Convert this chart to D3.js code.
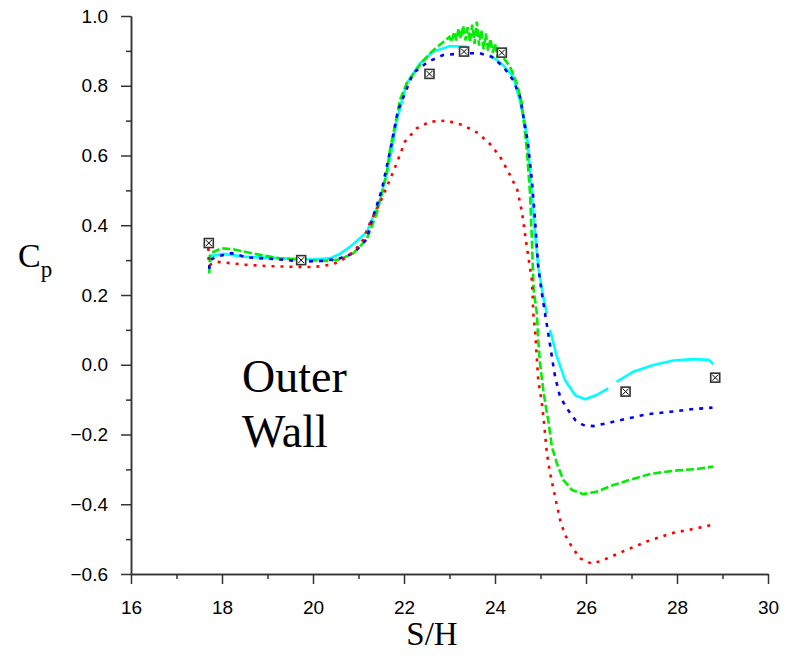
<!DOCTYPE html>
<meta charset='utf-8'>
<style>
body { margin: 0; background: #fff; }
.axis text { font-family: 'Liberation Sans', Arial, sans-serif; font-size: 19px; fill: #000; }
.axis path, .axis line { stroke: #333; stroke-width: 1.5px; }
.curve { fill: none; stroke-width: 2.6px; }
</style>
<svg width='794' height='656'></svg>

<script src='https://cdn.jsdelivr.net/npm/d3@7/dist/d3.min.js'></script>

<script>
  // computed Cp curves along the outer wall, [S/H, Cp]; null = gap in the line
  var redSeries = [[17.70,0.335],[17.71,0.285],[17.9,0.295],[18.5,0.287],[19.0,0.283],[19.5,0.281],[20.0,0.280],
    [20.44,0.288],[20.66,0.302],[20.9,0.325],[21.1,0.358],[21.25,0.406],[21.47,0.464],[21.69,0.53],[21.84,0.578],
    [22.02,0.64],[22.28,0.678],[22.57,0.697],[22.94,0.70],[23.30,0.687],[23.63,0.664],[23.89,0.633],[24.11,0.597],
    [24.33,0.544],[24.49,0.501],[24.59,0.44],[24.70,0.338],[24.81,0.243],[24.83,0.195],[24.84,0.148],[24.88,0.10],
    [24.95,-0.044],[25.03,-0.11],[25.08,-0.17],[25.14,-0.254],[25.21,-0.311],[25.32,-0.378],[25.43,-0.445],
    [25.54,-0.488],[25.69,-0.522],[25.87,-0.555],[26.13,-0.571],[26.38,-0.560],[26.89,-0.531],[27.33,-0.507],
    [27.88,-0.483],[28.43,-0.469],[28.78,-0.459]];

  var greenSeries = [[17.72,0.262],[17.73,0.30],[17.75,0.32],[17.99,0.334],[18.25,0.331],[18.84,0.315],[19.27,0.305],
    [19.86,0.30],[20.30,0.298],[20.59,0.302],[20.89,0.32],[21.18,0.36],[21.40,0.434],[21.55,0.51],[21.62,0.549],
    [21.69,0.616],[21.84,0.711],[21.91,0.759],[22.06,0.807],[22.35,0.86],[22.61,0.898],[22.83,0.922],[23.0,0.94],
    [23.05,0.925],[23.1,0.955],[23.15,0.93],[23.2,0.965],[23.25,0.935],[23.3,0.972],[23.35,0.93],[23.4,0.968],
    [23.45,0.925],[23.5,0.975],[23.55,0.92],[23.6,0.984],[23.65,0.915],[23.7,0.96],[23.75,0.905],[23.8,0.95],
    [23.85,0.9],[23.9,0.935],[23.95,0.895],[24.0,0.92],[24.05,0.885],[24.11,0.893],[24.33,0.855],[24.48,0.807],
    [24.59,0.75],[24.70,0.616],[24.77,0.49],[24.81,0.358],[24.85,0.214],[24.92,0.147],[24.95,0.071],[24.99,0.004],
    [25.06,-0.072],[25.14,-0.139],[25.17,-0.158],[25.25,-0.235],[25.36,-0.283],[25.50,-0.330],[25.69,-0.359],
    [25.94,-0.371],[26.23,-0.364],[26.60,-0.345],[26.97,-0.330],[27.41,-0.313],[27.92,-0.304],[28.43,-0.299],
    [28.80,-0.292]];

  var blueSeries = [[17.72,0.275],[17.73,0.30],[17.88,0.31],[18.21,0.32],[18.54,0.308],[19.27,0.302],[19.79,0.296],
    [20.23,0.298],[20.59,0.305],[20.89,0.32],[21.18,0.36],[21.25,0.396],[21.51,0.50],[21.62,0.568],[21.73,0.635],
    [21.87,0.73],[22.20,0.836],[22.53,0.869],[22.86,0.888],[23.30,0.893],[23.67,0.893],[23.93,0.883],[24.18,0.855],
    [24.40,0.816],[24.55,0.769],[24.64,0.70],[24.72,0.64],[24.81,0.53],[24.88,0.415],[24.95,0.281],[25.03,0.205],
    [25.10,0.147],[25.17,0.09],[25.25,0.023],[25.32,-0.034],[25.43,-0.092],[25.58,-0.125],[25.76,-0.158],
    [25.94,-0.173],[26.16,-0.176],[26.45,-0.168],[26.82,-0.157],[27.33,-0.142],[27.85,-0.135],[28.36,-0.127],
    [28.78,-0.123]];

  var cyanSeries = [[17.70,0.31],[18.03,0.318],[18.5,0.31],[19.3,0.305],[20.0,0.302],[20.37,0.305],[20.59,0.318],
    [20.81,0.338],[21.18,0.38],[21.47,0.472],[21.62,0.549],[21.73,0.616],[21.84,0.70],[22.06,0.807],[22.35,0.864],
    [22.64,0.898],[23.01,0.914],[23.38,0.912],null,[23.89,0.888],[24.18,0.859],[24.40,0.826],[24.55,0.755],
    [24.66,0.69],[24.72,0.635],[24.81,0.49],[24.88,0.377],[24.95,0.281],[25.06,0.195],[25.14,0.147],null,
    [25.21,0.10],[25.36,0.023],[25.54,-0.044],[25.76,-0.087],[25.98,-0.099],[26.23,-0.087],[26.49,-0.068],null,
    [26.67,-0.049],[27.04,-0.02],[27.48,-0.001],[27.92,0.012],[28.36,0.016],[28.69,0.014],[28.80,0.002]];

  // experimental points
  var expX = [17.71, 19.74, 22.56, 23.32, 24.15, 26.87, 28.84];
  var expY = [0.349, 0.30, 0.834, 0.898, 0.895, -0.077, -0.037];

  var xMajor = [16, 18, 20, 22, 24, 26, 28, 30];
  var xMinor = [17, 19, 21, 23, 25, 27, 29];
  var yMajor = [-0.6, -0.4, -0.2, 0.0, 0.2, 0.4, 0.6, 0.8, 1.0];
  var yMinor = [-0.5, -0.3, -0.1, 0.1, 0.3, 0.5, 0.7, 0.9];

  var svg = d3.select('svg');

  var x = d3.scaleLinear().domain([16, 30]).range([131, 768]);
  var y = d3.scaleLinear().domain([-0.6, 1.0]).range([574, 16]);

  var fmt = d3.format('.1f');

  // minor ticks first, then major axes with labels
  svg.append('g').attr('class', 'axis')
    .attr('transform', 'translate(0,574)')
    .call(d3.axisBottom(x).tickValues(xMinor).tickSize(5).tickSizeOuter(0).tickFormat(''));
  svg.append('g').attr('class', 'axis')
    .attr('transform', 'translate(131,0)')
    .call(d3.axisLeft(y).tickValues(yMinor).tickSize(5).tickSizeOuter(0).tickFormat(''));

  svg.append('g').attr('class', 'axis')
    .attr('transform', 'translate(0,574)')
    .call(d3.axisBottom(x).tickValues(xMajor).tickSize(10).tickSizeOuter(0).tickPadding(17).tickFormat(d3.format('d')));
  svg.append('g').attr('class', 'axis')
    .attr('transform', 'translate(131,0)')
    .call(d3.axisLeft(y).tickValues(yMajor).tickSize(10).tickSizeOuter(0).tickPadding(13).tickFormat(fmt));

  var line = d3.line()
    .defined(d => d !== null)
    .x(d => x(d[0]))
    .y(d => y(d[1]));

  var curves = [
    {data: cyanSeries, color: '#00ffff', dash: null},
    {data: greenSeries, color: '#00ee00', dash: '8,3'},
    {data: blueSeries, color: '#0000ff', dash: '4,6'},
    {data: redSeries, color: '#ff0000', dash: '3,6'}
  ];

  svg.append('g')
    .selectAll('path')
    .data(curves)
    .enter().append('path')
      .attr('class', 'curve')
      .attr('d', d => line(d.data))
      .attr('stroke', d => d.color)
      .attr('stroke-dasharray', d => d.dash);

  var pts = expX.map((v, i) => [v, expY[i]]);
  var mk = svg.append('g')
    .selectAll('g')
    .data(pts)
    .enter().append('g')
      .attr('transform', d => 'translate(' + x(d[0]) + ',' + y(d[1]) + ')');
  mk.append('rect')
    .attr('x', -4.5).attr('y', -4.5).attr('width', 9).attr('height', 9)
    .attr('fill', '#fff').attr('stroke', '#333').attr('stroke-width', 1.6);
  mk.append('path')
    .attr('d', 'M-3,-3L3,3M-3,3L3,-3')
    .attr('stroke', '#000').attr('stroke-width', 1);

  // titles
  svg.append('text')
    .attr('x', 432).attr('y', 645)
    .attr('text-anchor', 'middle')
    .style('font-family', "'Liberation Serif', 'Times New Roman', serif")
    .style('font-size', '33px')
    .text('S/H');

  var cp = svg.append('text')
    .attr('x', 18).attr('y', 267)
    .style('font-family', "'Liberation Serif', 'Times New Roman', serif")
    .style('font-size', '34px');
  cp.append('tspan').text('C');
  cp.append('tspan').attr('dy', 10).style('font-size', '23px').text('p');

  var label = svg.append('text')
    .style('font-family', "'Liberation Serif', 'Times New Roman', serif")
    .style('font-size', '46px');
  label.append('tspan').attr('x', 242).attr('y', 392).text('Outer');
  label.append('tspan').attr('x', 242).attr('y', 447).text('Wall');
</script>
